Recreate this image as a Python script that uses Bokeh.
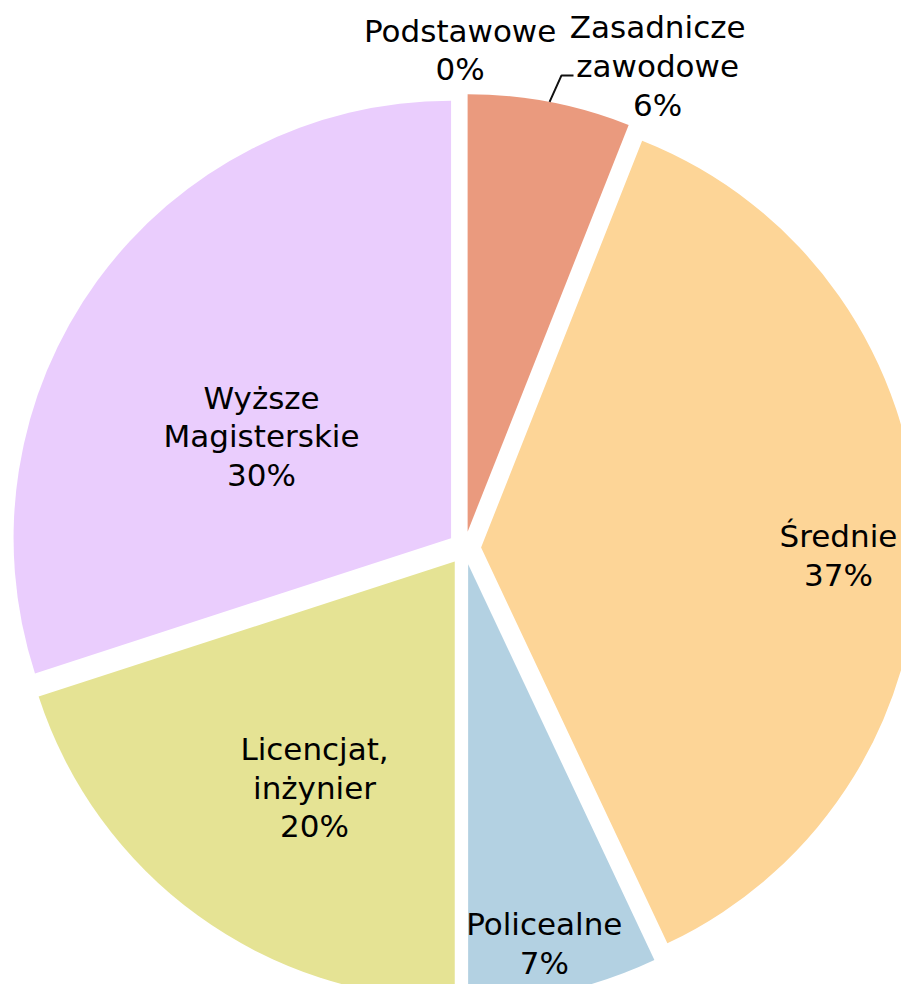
import numpy as np
from bokeh.plotting import figure
from bokeh.models import ColumnDataSource, Range1d
from bokeh.core.properties import value
from bokeh.embed import file_html
from bokeh.resources import INLINE

# ---- data ----
categories = ["Podstawowe", "Zasadnicze\nzawodowe", "Średnie", "Policealne",
              "Licencjat,\ninżynier", "Wyższe\nMagisterskie"]
shares = [0, 6, 37, 7, 20, 30]
colors = ["#F4B183", "#EA9A7E", "#FDD597", "#B3D1E2", "#E5E394", "#EACDFD"]

# ---- layout (pixel units, y measured upwards from bottom of a 1000px canvas) ----
W, H = 901, 984
PAGE_H = 1000
CX, CY = 464.0, PAGE_H - 547.5
R = 437.5
EXPLODE = 16.6
label_r = [498, 519, 374, 403.5, 282.6, 231.6]
label_deg = [359.5, 21.85, 91.1, 168.6, 212.05, 298.8]
leader = [False, True, False, False, False, False]
leader_elbow_r = 482.4
leader_elbow_deg = 11.6
leader_tail = 12

vals = np.array(shares, dtype=float)
frac = vals / vals.sum()
cum_end = np.cumsum(frac)
cum_start = cum_end - frac
mid = (cum_start + cum_end) / 2 * 2 * np.pi  # clockwise from top

start_angle = np.pi / 2 - 2 * np.pi * cum_start
end_angle = np.pi / 2 - 2 * np.pi * cum_end
wx = CX + EXPLODE * np.sin(mid)
wy = CY + EXPLODE * np.cos(mid)

keep = vals > 0
wedges = ColumnDataSource(dict(
    x=wx[keep], y=wy[keep],
    start=start_angle[keep], end=end_angle[keep],
    color=[c for c, k in zip(colors, keep) if k],
))

lab_th = np.deg2rad(label_deg)
labels = ColumnDataSource(dict(
    x=CX + np.array(label_r) * np.sin(lab_th),
    y=CY + np.array(label_r) * np.cos(lab_th),
    text=[f"{c}\n{int(v)}%" for c, v in zip(categories, shares)],
))

p = figure(width=W, height=H, output_backend="svg", toolbar_location=None,
           x_range=Range1d(0, W), y_range=Range1d(PAGE_H - H, PAGE_H),
           min_border=0, outline_line_color=None)
p.axis.visible = False
p.grid.visible = False
p.background_fill_color = "white"
p.border_fill_color = "white"

p.wedge(x="x", y="y", radius=R, start_angle="start", end_angle="end",
        direction="clock", fill_color="color", line_color=None, source=wedges)

xs, ys = [], []
et = np.deg2rad(leader_elbow_deg)
for i, flag in enumerate(leader):
    if not flag:
        continue
    x1 = wx[i] + R * np.sin(mid[i])
    y1 = wy[i] + R * np.cos(mid[i])
    x2 = CX + leader_elbow_r * np.sin(et)
    y2 = CY + leader_elbow_r * np.cos(et)
    xs.append([x1, x2, x2 + leader_tail])
    ys.append([y1, y2, y2])
p.multi_line(xs=xs, ys=ys, line_color="#111111", line_width=2)

p.text(x="x", y="y", text="text", source=labels,
       text_align="center", text_baseline="middle",
       text_font=value("DejaVu Sans"), text_font_size=value("31px"),
       text_line_height=1.08, text_color="#000000")

open("out.html", "w").write(file_html(p, INLINE))
